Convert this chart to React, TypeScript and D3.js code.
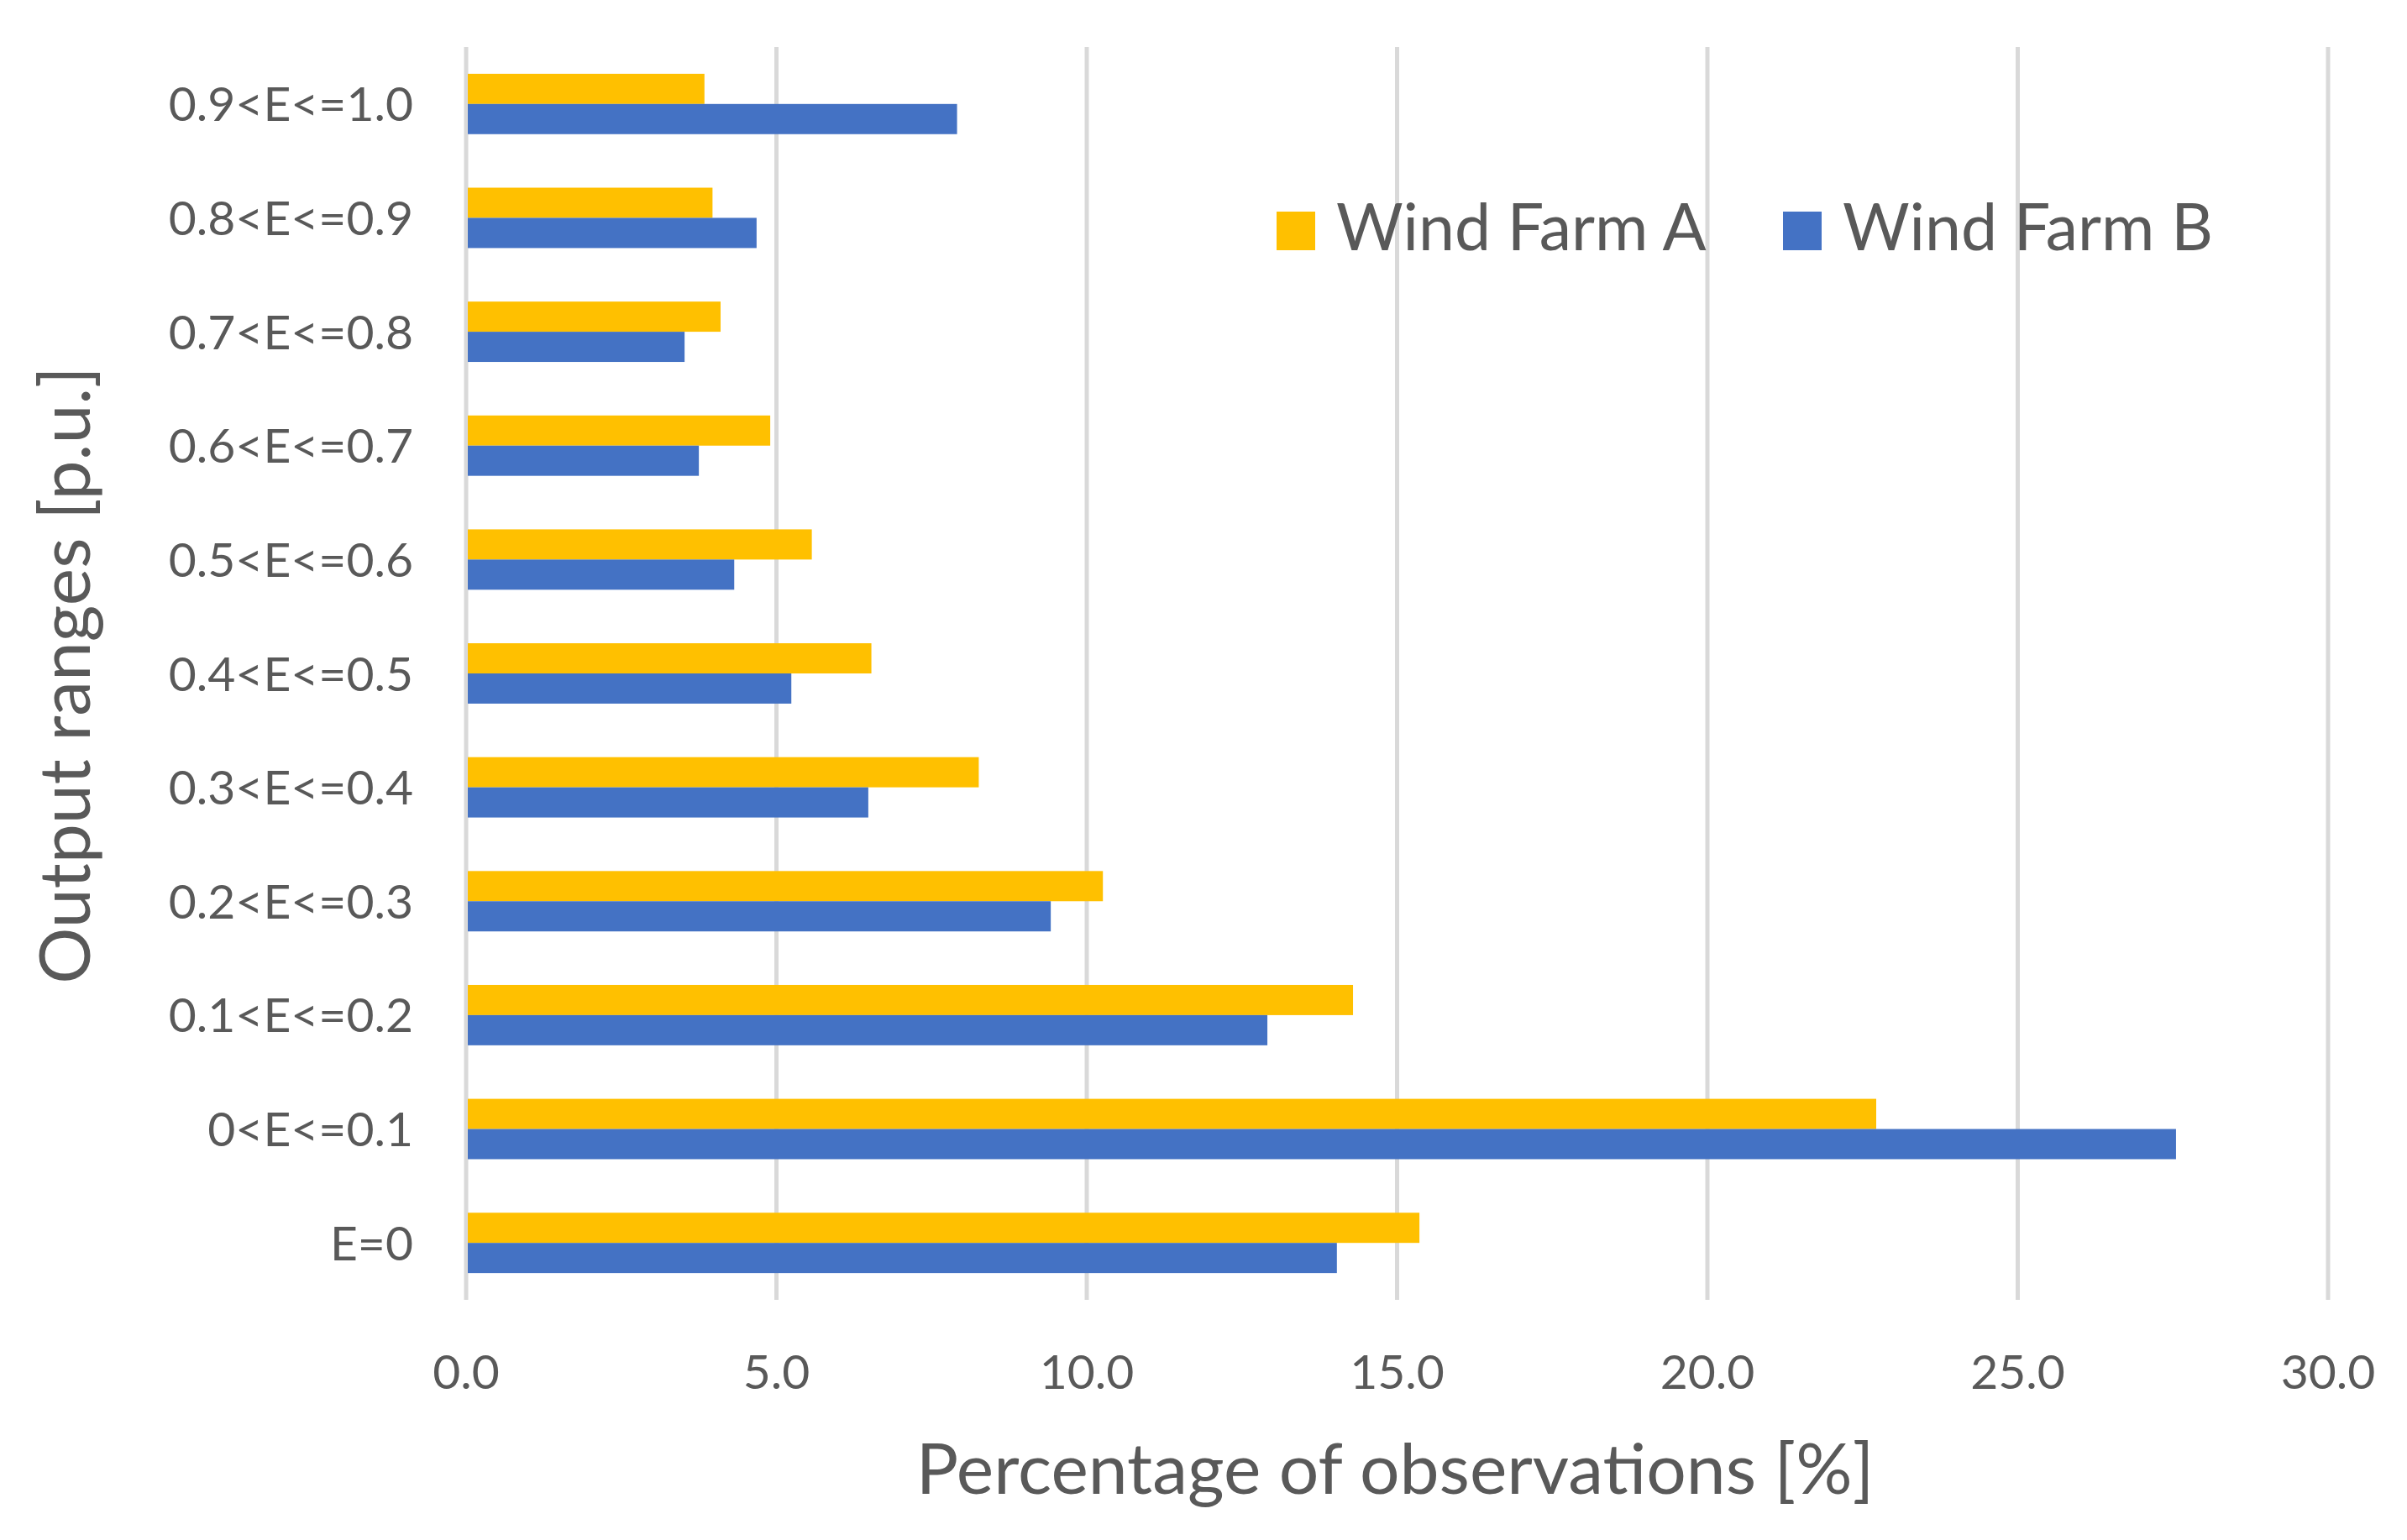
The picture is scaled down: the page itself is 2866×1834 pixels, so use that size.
import { useEffect, useRef } from "react";
import * as d3 from "d3";

const categories = [
  "0.9<E<=1.0",
  "0.8<E<=0.9",
  "0.7<E<=0.8",
  "0.6<E<=0.7",
  "0.5<E<=0.6",
  "0.4<E<=0.5",
  "0.3<E<=0.4",
  "0.2<E<=0.3",
  "0.1<E<=0.2",
  "0<E<=0.1",
  "E=0",
];
const seriesNames = ["Wind Farm A", "Wind Farm B"];
const farmA = [3.84, 3.97, 4.1, 4.9, 5.57, 6.53, 8.26, 10.26, 14.29, 22.72, 15.36];
const farmB = [7.91, 4.68, 3.52, 3.75, 4.32, 5.24, 6.48, 9.42, 12.91, 27.55, 14.03];
const xTicks = [0, 5, 10, 15, 20, 25, 30];
const colors = ["#FFC000", "#4472C4"];

const FONT = "Lato, 'Liberation Sans', sans-serif";

export default function App() {
  const ref = useRef<SVGSVGElement | null>(null);

  useEffect(() => {
    if (!ref.current) return;
    const svg = d3.select(ref.current);
    svg.selectAll("*").remove();

    const width = 2866;
    const height = 1834;
    const margin = { top: 56, right: 94, bottom: 286, left: 555 };

    const x = d3
      .scaleLinear()
      .domain([0, 30])
      .range([margin.left, width - margin.right]);

    const y = d3
      .scaleBand()
      .domain(categories)
      .range([margin.top, height - margin.bottom])
      .paddingInner(0.47)
      .paddingOuter(0.235);

    const inner = d3.scaleBand().domain(seriesNames).range([0, y.bandwidth()]);

    svg.append("rect").attr("width", width).attr("height", height).attr("fill", "#fff");

    // gridlines
    svg
      .append("g")
      .selectAll("line")
      .data(xTicks)
      .join("line")
      .attr("x1", (d) => x(d))
      .attr("x2", (d) => x(d))
      .attr("y1", margin.top)
      .attr("y2", height - margin.bottom)
      .attr("stroke", "#D9D9D9")
      .attr("stroke-width", 5);

    // bars
    const rows = categories.map((c, i) => ({ c, vals: [farmA[i], farmB[i]] }));
    const group = svg
      .append("g")
      .selectAll("g")
      .data(rows)
      .join("g")
      .attr("transform", (d) => `translate(0,${y(d.c)})`);

    group
      .selectAll("rect")
      .data((d) => d.vals.map((v, j) => ({ v, s: seriesNames[j], j })))
      .join("rect")
      .attr("x", x(0) + 2)
      .attr("y", (d) => inner(d.s) ?? 0)
      .attr("width", (d) => x(d.v) - x(0) - 2)
      .attr("height", inner.bandwidth())
      .attr("fill", (d) => colors[d.j]);

    const textStyle = (sel: any, size: number) =>
      sel.attr("font-family", FONT).attr("font-size", size).attr("fill", "#595959");

    // y tick labels
    svg
      .append("g")
      .selectAll("text")
      .data(categories)
      .join("text")
      .attr("x", margin.left - 63)
      .attr("y", (d) => (y(d) ?? 0) + y.bandwidth() / 2)
      .attr("dy", "0.36em")
      .attr("text-anchor", "end")
      .call(textStyle, 57)
      .text((d) => d);

    // x tick labels
    svg
      .append("g")
      .selectAll("text")
      .data(xTicks)
      .join("text")
      .attr("x", (d) => x(d))
      .attr("y", 1654)
      .attr("text-anchor", "middle")
      .call(textStyle, 57)
      .text((d) => d3.format(".1f")(d));

    // axis titles
    svg
      .append("text")
      .attr("x", 1661)
      .attr("y", 1779)
      .attr("text-anchor", "middle")
      .call(textStyle, 84)
      .text("Percentage of observations [%]");

    svg
      .append("text")
      .attr("transform", "translate(107,804) rotate(-90)")
      .attr("text-anchor", "middle")
      .call(textStyle, 84)
      .text("Output ranges [p.u.]");

    // legend
    const legendX = [1520, 2123];
    const legend = svg
      .append("g")
      .selectAll("g")
      .data(seriesNames)
      .join("g")
      .attr("transform", (_, i) => `translate(${legendX[i]},252)`);
    legend
      .append("rect")
      .attr("width", 46)
      .attr("height", 46)
      .attr("fill", (_, i) => colors[i]);
    legend
      .append("text")
      .attr("x", 71)
      .attr("y", 46)
      .call(textStyle, 77)
      .text((d) => d);
  }, []);

  return (
    <>
      <style>{"body{margin:0}"}</style>
      <svg ref={ref} width={2866} height={1834} style={{ display: "block" }} />
    </>
  );
}
